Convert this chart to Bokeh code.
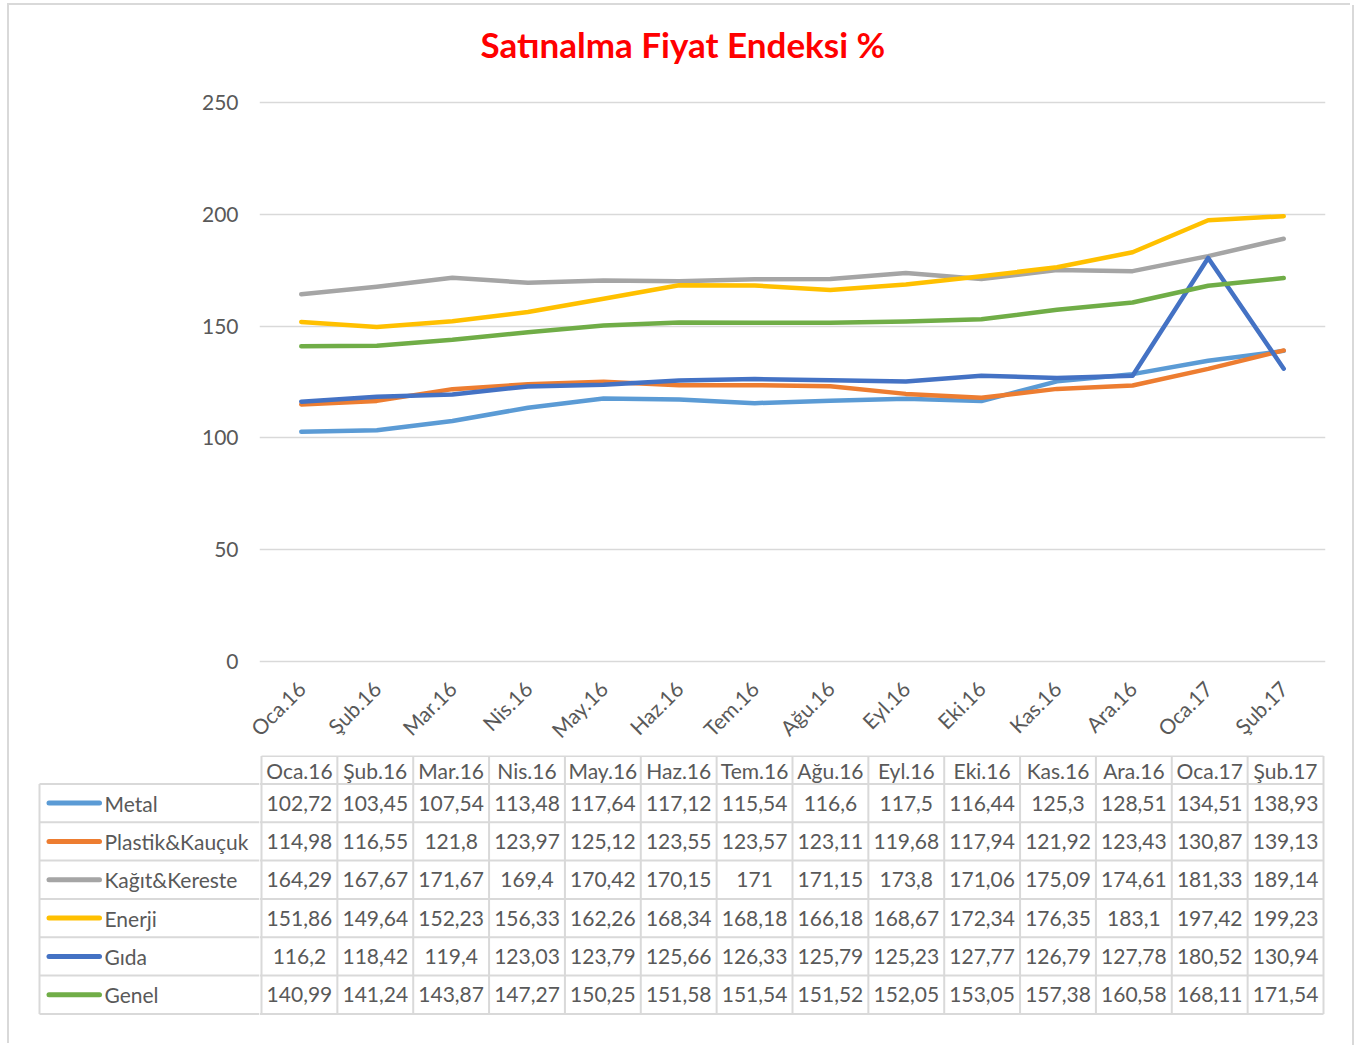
import math
from bokeh.plotting import figure
from bokeh.models import Range1d, FactorRange, FixedTicker, Title
from bokeh.layouts import column, row
from bokeh.embed import file_html
from bokeh.resources import INLINE
from bokeh.core.properties import value

# ---------------- data ----------------
months = ["Oca.16", "Şub.16", "Mar.16", "Nis.16", "May.16", "Haz.16", "Tem.16",
          "Ağu.16", "Eyl.16", "Eki.16", "Kas.16", "Ara.16", "Oca.17", "Şub.17"]
metal = [102.72, 103.45, 107.54, 113.48, 117.64, 117.12, 115.54, 116.6, 117.5, 116.44, 125.3, 128.51, 134.51, 138.93]
plastik = [114.98, 116.55, 121.8, 123.97, 125.12, 123.55, 123.57, 123.11, 119.68, 117.94, 121.92, 123.43, 130.87, 139.13]
kagit = [164.29, 167.67, 171.67, 169.4, 170.42, 170.15, 171, 171.15, 173.8, 171.06, 175.09, 174.61, 181.33, 189.14]
enerji = [151.86, 149.64, 152.23, 156.33, 162.26, 168.34, 168.18, 166.18, 168.67, 172.34, 176.35, 183.1, 197.42, 199.23]
gida = [116.2, 118.42, 119.4, 123.03, 123.79, 125.66, 126.33, 125.79, 125.23, 127.77, 126.79, 127.78, 180.52, 130.94]
genel = [140.99, 141.24, 143.87, 147.27, 150.25, 151.58, 151.54, 151.52, 152.05, 153.05, 157.38, 160.58, 168.11, 171.54]
series_names = ["Metal", "Plastik&Kauçuk", "Kağıt&Kereste", "Enerji", "Gıda", "Genel"]
series_values = [metal, plastik, kagit, enerji, gida, genel]
y_ticks = [0, 50, 100, 150, 200, 250]
title_text = "Satınalma Fiyat Endeksi %"

# ---------------- style ----------------
colors = ["#5B9BD5", "#ED7D31", "#A5A5A5", "#FFC000", "#4472C4", "#70AD47"]
FONT = "Lato"
TXT = "#595959"
GRID = "#D9D9D9"
FS = "21px"

n = len(months)
m = len(series_names)
col_px = 1062 / n          # width of one month column (px)
row_px = 38.33             # height of one data row (px)
pad_u = 2 / col_px         # small padding so edge lines are not clipped
lab_w = 222 / col_px       # width of the legend/label column
hdr_h = 27.8 / row_px      # header row height relative to a data row
ypad_top = 0.6 / row_px
ypad_bot = 2.6 / row_px


def tr(v):
    return f"{v:g}".replace(".", ",")


# ---------------- chart ----------------
p = figure(width=1343, height=750,
           x_range=FactorRange(factors=months, range_padding=2 * pad_u,
                               range_padding_units="absolute"),
           y_range=Range1d(-1, 251),
           output_backend="svg", toolbar_location=None,
           min_border_left=250, min_border_right=27,
           min_border_top=95, min_border_bottom=92)
p.outline_line_color = None

# real title (outer) + thin spacer title next to the plot area
p.title.text = title_text
p.title.text_font = FONT
p.title.text_font_style = "bold"
p.title.text_font_size = "35px"
p.title.text_color = "#FF0000"
p.title.align = "left"
p.title.offset = 221
p.title.standoff = 4
p.add_layout(Title(text=" ", text_font_size="1px", standoff=31), "above")

p.yaxis.ticker = FixedTicker(ticks=y_ticks)
p.yaxis.axis_line_color = None
p.yaxis.major_tick_line_color = None
p.yaxis.minor_tick_line_color = None
p.yaxis.major_tick_out = 0
p.yaxis.major_tick_in = 0
p.yaxis.major_label_standoff = 21
p.yaxis.major_label_text_font = FONT
p.yaxis.major_label_text_font_size = FS
p.yaxis.major_label_text_color = TXT

p.xaxis.axis_line_color = None
p.xaxis.major_tick_line_color = None
p.xaxis.minor_tick_line_color = None
p.xaxis.major_tick_out = 0
p.xaxis.major_tick_in = 0
p.xaxis.major_label_orientation = math.pi / 4
p.xaxis.major_label_standoff = 21
p.xaxis.major_label_text_font = FONT
p.xaxis.major_label_text_font_size = FS
p.xaxis.major_label_text_color = TXT

p.xgrid.grid_line_color = None
p.ygrid.grid_line_color = GRID
p.ygrid.grid_line_width = 1.5

for vals, col in zip(series_values, colors):
    p.line(months, vals, line_color=col, line_width=4.5,
           line_cap="round", line_join="round")

# ---------------- data table: label column ----------------
TH = 290
yr = Range1d(m + hdr_h + ypad_bot, -ypad_top)
lbl = figure(width=250, height=TH,
             x_range=Range1d(-lab_w - pad_u, -pad_u), y_range=yr,
             x_axis_type=None, y_axis_type=None,
             output_backend="svg", toolbar_location=None,
             min_border_left=28, min_border_right=0,
             min_border_top=0, min_border_bottom=29)
lbl.outline_line_color = None

lx0 = [-lab_w] + [-lab_w] * (m + 1)
lx1 = [-lab_w] + [0] * (m + 1)
ly0 = [hdr_h] + [hdr_h + k for k in range(m + 1)]
ly1 = [hdr_h + m] + [hdr_h + k for k in range(m + 1)]
lbl.segment(x0=lx0, y0=ly0, x1=lx1, y1=ly1, line_color=GRID, line_width=2)

ry = [hdr_h + k + 0.5 for k in range(m)]
lbl.segment(x0=[-lab_w + 9.5 / col_px] * m, x1=[-lab_w + 60 / col_px] * m,
            y0=ry, y1=ry, line_color=colors, line_width=5, line_cap="round")
lbl.text(x=[-lab_w + 65 / col_px] * m, y=ry, text=series_names,
         text_align="left", text_baseline="middle", text_font=value(FONT),
         text_font_size=FS, text_color=TXT)

# ---------------- data table: values ----------------
t = figure(width=1093, height=TH,
           x_range=Range1d(-pad_u, n + pad_u), y_range=yr,
           x_axis_type=None, y_axis_type=None,
           output_backend="svg", toolbar_location=None,
           min_border_left=0, min_border_right=27,
           min_border_top=0, min_border_bottom=29)
t.outline_line_color = None

x0, x1, y0, y1 = [], [], [], []
for i in range(n + 1):
    x0.append(i); x1.append(i); y0.append(0); y1.append(hdr_h + m)
x0.append(0); x1.append(n); y0.append(0); y1.append(0)
for k in range(m + 1):
    x0.append(-pad_u); x1.append(n); y0.append(hdr_h + k); y1.append(hdr_h + k)
t.segment(x0=x0, y0=y0, x1=x1, y1=y1, line_color=GRID, line_width=2)

xc = [i + 0.5 for i in range(n)]
t.text(x=xc, y=[hdr_h / 2] * n, text=months, text_align="center",
       text_baseline="middle", text_font=value(FONT), text_font_size=FS,
       text_color=TXT)
for k, vals in enumerate(series_values):
    t.text(x=xc, y=[hdr_h + k + 0.5] * n, text=[tr(v) for v in vals],
           text_align="center", text_baseline="middle", text_font=value(FONT),
           text_font_size=FS, text_color=TXT)

layout = column(p, row(lbl, t),
                styles={"margin-left": "9px", "margin-top": "5px",
                        "box-shadow": "-2px -2px 0 0 #D9D9D9, 2px 0 0 0 #D9D9D9"})

open("out.html", "w").write(file_html(layout, INLINE))
